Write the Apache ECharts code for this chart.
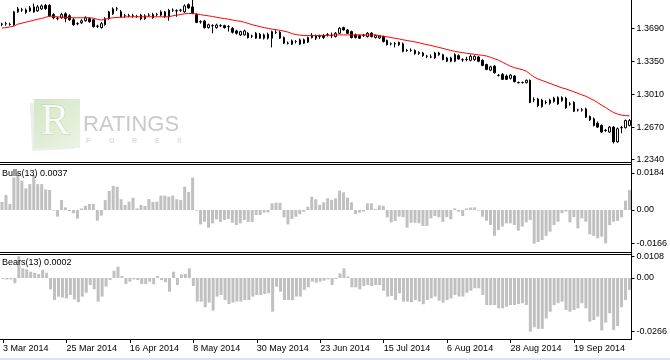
<!DOCTYPE html>
<html>
<head>
<meta charset="utf-8">
<script src="https://cdn.jsdelivr.net/npm/echarts@6/dist/echarts.min.js"></script>
<style>
html,body{margin:0;padding:0;background:#fff;}
#chart{width:670px;height:360px;}
</style>
</head>
<body>
<div id="chart"></div>
<script>
// [open, close, low, high] per trading day, starting 3 Mar 2014
const candles = [
[1.3735,1.3733,1.3713,1.3749],[1.3738,1.3740,1.3718,1.3759],[1.3732,1.3730,1.3718,1.3749],[1.3725,1.3861,1.3718,1.3871],[1.3861,1.3892,1.3851,1.3912],
[1.3880,1.3882,1.3861,1.3902],[1.3881,1.3854,1.3841,1.3897],[1.3871,1.3902,1.3861,1.3922],[1.3912,1.3861,1.3851,1.3946],[1.3871,1.3912,1.3861,1.3932],
[1.3892,1.3922,1.3881,1.3938],[1.3927,1.3895,1.3881,1.3943],[1.3929,1.3820,1.3810,1.3938],[1.3833,1.3800,1.3785,1.3846],[1.3794,1.3796,1.3774,1.3810],
[1.3800,1.3833,1.3790,1.3851],[1.3841,1.3793,1.3754,1.3856],[1.3820,1.3779,1.3769,1.3836],[1.3779,1.3728,1.3718,1.3800],[1.3738,1.3740,1.3723,1.3754],
[1.3749,1.3769,1.3734,1.3785],[1.3769,1.3800,1.3759,1.3815],[1.3790,1.3759,1.3749,1.3805],[1.3779,1.3708,1.3698,1.3790],[1.3712,1.3714,1.3693,1.3728],
[1.3698,1.3739,1.3688,1.3754],[1.3728,1.3790,1.3718,1.3805],[1.3790,1.3861,1.3779,1.3871],[1.3841,1.3892,1.3830,1.3907],[1.3891,1.3893,1.3871,1.3912],
[1.3861,1.3810,1.3800,1.3881],[1.3821,1.3819,1.3800,1.3841],[1.3819,1.3821,1.3805,1.3841],[1.3821,1.3819,1.3800,1.3841],[1.3812,1.3814,1.3800,1.3830],
[1.3827,1.3787,1.3774,1.3841],[1.3790,1.3820,1.3779,1.3836],[1.3826,1.3828,1.3810,1.3846],[1.3833,1.3800,1.3790,1.3851],[1.3832,1.3834,1.3815,1.3851],
[1.3827,1.3861,1.3815,1.3876],[1.3861,1.3810,1.3800,1.3871],[1.3810,1.3878,1.3769,1.3892],[1.3877,1.3879,1.3861,1.3897],[1.3872,1.3870,1.3810,1.3887],
[1.3877,1.3879,1.3861,1.3892],[1.3861,1.3922,1.3851,1.3938],[1.3935,1.3902,1.3892,1.3948],[1.3912,1.3844,1.3836,1.3994],[1.3833,1.3752,1.3744,1.3846],
[1.3758,1.3760,1.3739,1.3774],[1.3766,1.3698,1.3688,1.3779],[1.3698,1.3728,1.3688,1.3739],[1.3717,1.3719,1.3640,1.3734],[1.3698,1.3725,1.3688,1.3739],
[1.3719,1.3717,1.3703,1.3734],[1.3718,1.3698,1.3688,1.3728],[1.3707,1.3709,1.3657,1.3723],[1.3691,1.3650,1.3637,1.3703],[1.3664,1.3640,1.3626,1.3677],
[1.3623,1.3657,1.3611,1.3667],[1.3623,1.3664,1.3616,1.3677],[1.3640,1.3596,1.3586,1.3652],[1.3610,1.3612,1.3591,1.3626],[1.3589,1.3640,1.3581,1.3652],
[1.3630,1.3589,1.3581,1.3642],[1.3589,1.3623,1.3575,1.3637],[1.3589,1.3630,1.3575,1.3647],[1.3589,1.3657,1.3494,1.3667],[1.3648,1.3650,1.3632,1.3672],
[1.3650,1.3589,1.3581,1.3662],[1.3596,1.3538,1.3529,1.3606],[1.3539,1.3537,1.3524,1.3555],[1.3527,1.3562,1.3519,1.3575],[1.3554,1.3556,1.3535,1.3570],
[1.3527,1.3572,1.3519,1.3586],[1.3572,1.3538,1.3529,1.3586],[1.3548,1.3596,1.3540,1.3606],[1.3616,1.3596,1.3586,1.3642],[1.3616,1.3589,1.3570,1.3626],
[1.3605,1.3607,1.3581,1.3626],[1.3616,1.3596,1.3581,1.3632],[1.3622,1.3624,1.3606,1.3642],[1.3617,1.3615,1.3591,1.3647],[1.3606,1.3640,1.3596,1.3652],
[1.3640,1.3691,1.3632,1.3703],[1.3698,1.3674,1.3667,1.3708],[1.3674,1.3640,1.3632,1.3683],[1.3657,1.3596,1.3586,1.3667],[1.3623,1.3596,1.3586,1.3637],
[1.3616,1.3589,1.3581,1.3626],[1.3615,1.3617,1.3601,1.3632],[1.3606,1.3640,1.3596,1.3652],[1.3640,1.3606,1.3596,1.3652],[1.3596,1.3616,1.3586,1.3626],
[1.3591,1.3611,1.3581,1.3621],[1.3606,1.3555,1.3545,1.3616],[1.3565,1.3521,1.3514,1.3575],[1.3530,1.3532,1.3514,1.3545],[1.3532,1.3530,1.3494,1.3550],
[1.3521,1.3545,1.3509,1.3555],[1.3531,1.3453,1.3443,1.3545],[1.3464,1.3462,1.3448,1.3479],[1.3462,1.3464,1.3448,1.3484],[1.3463,1.3430,1.3417,1.3473],
[1.3430,1.3443,1.3417,1.3453],[1.3436,1.3409,1.3397,1.3448],[1.3401,1.3403,1.3382,1.3417],[1.3396,1.3394,1.3382,1.3422],[1.3385,1.3436,1.3377,1.3448],
[1.3436,1.3419,1.3407,1.3448],[1.3419,1.3368,1.3361,1.3428],[1.3385,1.3351,1.3341,1.3397],[1.3351,1.3385,1.3341,1.3397],[1.3351,1.3419,1.3341,1.3433],
[1.3409,1.3374,1.3366,1.3422],[1.3365,1.3367,1.3346,1.3382],[1.3369,1.3367,1.3351,1.3397],[1.3361,1.3402,1.3351,1.3422],[1.3368,1.3402,1.3356,1.3412],
[1.3395,1.3351,1.3341,1.3407],[1.3361,1.3307,1.3300,1.3371],[1.3317,1.3266,1.3259,1.3326],[1.3259,1.3293,1.3249,1.3305],[1.3300,1.3232,1.3224,1.3310],
[1.3204,1.3206,1.3193,1.3218],[1.3215,1.3164,1.3157,1.3229],[1.3198,1.3164,1.3157,1.3213],[1.3175,1.3208,1.3162,1.3218],[1.3198,1.3140,1.3132,1.3208],
[1.3131,1.3129,1.3122,1.3142],[1.3129,1.3131,1.3122,1.3142],[1.3130,1.3154,1.3122,1.3162],[1.3154,1.2926,1.2918,1.3162],[1.2952,1.2954,1.2928,1.2979],
[1.2960,1.2892,1.2877,1.2974],[1.2882,1.2950,1.2872,1.2963],[1.2927,1.2925,1.2907,1.2948],[1.2916,1.2950,1.2902,1.2963],[1.2936,1.2970,1.2923,1.2984],
[1.2909,1.2977,1.2902,1.2989],[1.2943,1.2977,1.2933,1.2989],[1.2970,1.2869,1.2861,1.2984],[1.2910,1.2908,1.2892,1.2928],[1.2926,1.2834,1.2826,1.2938],
[1.2847,1.2849,1.2831,1.2861],[1.2849,1.2847,1.2831,1.2867],[1.2858,1.2773,1.2765,1.2872],[1.2780,1.2746,1.2734,1.2790],[1.2756,1.2688,1.2678,1.2770],
[1.2711,1.2671,1.2663,1.2729],[1.2688,1.2620,1.2612,1.2698],[1.2638,1.2636,1.2622,1.2652],[1.2620,1.2671,1.2612,1.2683],[1.2671,1.2518,1.2501,1.2683],
[1.2518,1.2654,1.2510,1.2668],[1.2664,1.2666,1.2607,1.2683],[1.2665,1.2739,1.2657,1.2749],[1.2688,1.2739,1.2678,1.2754]
];

// red moving average
const maLine = [
1.3693,1.3698,1.3705,1.3713,1.3734,1.3744,1.3754,1.3764,1.3774,1.3785,
1.3793,1.3805,1.3817,1.3813,1.3810,1.3807,1.3805,1.3800,1.3800,1.3800,
1.3800,1.3800,1.3800,1.3795,1.3785,1.3776,1.3785,1.3795,1.3800,1.3803,
1.3805,1.3808,1.3810,1.3810,1.3810,1.3810,1.3810,1.3810,1.3810,1.3810,
1.3810,1.3810,1.3810,1.3820,1.3827,1.3833,1.3841,1.3844,1.3844,1.3839,
1.3832,1.3825,1.3820,1.3813,1.3805,1.3798,1.3792,1.3785,1.3777,1.3769,
1.3764,1.3754,1.3742,1.3728,1.3718,1.3708,1.3698,1.3690,1.3683,1.3677,
1.3670,1.3662,1.3652,1.3637,1.3626,1.3621,1.3616,1.3616,1.3616,1.3616,
1.3616,1.3616,1.3618,1.3621,1.3623,1.3623,1.3623,1.3623,1.3623,1.3623,
1.3623,1.3623,1.3623,1.3623,1.3623,1.3616,1.3609,1.3603,1.3596,1.3588,
1.3581,1.3572,1.3565,1.3558,1.3550,1.3542,1.3531,1.3522,1.3514,1.3504,
1.3494,1.3484,1.3473,1.3463,1.3453,1.3446,1.3440,1.3433,1.3428,1.3422,
1.3417,1.3412,1.3405,1.3392,1.3377,1.3361,1.3341,1.3320,1.3300,1.3285,
1.3274,1.3264,1.3249,1.3218,1.3188,1.3167,1.3152,1.3137,1.3122,1.3106,
1.3091,1.3076,1.3065,1.3050,1.3035,1.3020,1.3004,1.2989,1.2968,1.2948,
1.2923,1.2897,1.2872,1.2846,1.2821,1.2805,1.2795,1.2790,1.2787
];

const bulls = [
0.0040,0.0074,0.0030,0.0161,0.0184,0.0145,0.0107,0.0128,0.0173,0.0128,
0.0128,0.0102,0.0099,-0.0003,-0.0033,0.0049,0.0013,-0.0005,-0.0016,-0.0043,
0.0008,0.0021,0.0030,0.0030,-0.0053,-0.0028,0.0049,0.0094,0.0119,0.0115,
0.0053,0.0025,0.0041,0.0061,0.0008,0.0025,0.0020,0.0054,0.0040,0.0041,
0.0071,0.0071,0.0066,0.0071,0.0053,0.0049,0.0115,0.0089,0.0160,-0.0003,
-0.0071,-0.0058,-0.0087,-0.0066,-0.0046,-0.0059,-0.0049,-0.0044,-0.0063,-0.0074,
-0.0066,-0.0049,-0.0059,-0.0059,-0.0025,-0.0025,-0.0013,-0.0012,0.0033,0.0036,
0.0036,-0.0036,-0.0071,-0.0044,-0.0033,-0.0021,-0.0008,0.0016,0.0066,0.0053,
0.0025,0.0038,0.0058,0.0049,0.0058,0.0096,0.0087,0.0061,0.0038,-0.0020,
-0.0013,-0.0008,0.0033,0.0033,0.0005,0.0023,0.0021,-0.0036,-0.0061,-0.0054,
-0.0033,-0.0036,-0.0087,-0.0063,-0.0063,-0.0066,-0.0079,-0.0079,-0.0041,-0.0030,
-0.0036,-0.0058,-0.0036,-0.0046,0.0008,-0.0008,-0.0030,0.0008,0.0012,0.0013,
-0.0003,-0.0033,-0.0053,-0.0074,-0.0128,-0.0099,-0.0082,-0.0066,-0.0066,-0.0074,
-0.0102,-0.0082,-0.0061,-0.0049,-0.0166,-0.0158,-0.0148,-0.0128,-0.0107,-0.0074,
-0.0058,-0.0016,-0.0008,-0.0061,-0.0036,-0.0091,-0.0041,-0.0058,-0.0120,-0.0128,
-0.0140,-0.0132,-0.0165,-0.0074,-0.0058,-0.0054,-0.0036,0.0046,0.0099
];

const bears = [
-0.0005,-0.0007,-0.0007,-0.0026,0.0108,0.0048,0.0043,0.0031,0.0026,0.0020,
0.0040,0.0026,-0.0056,-0.0109,-0.0092,-0.0097,-0.0101,-0.0084,-0.0106,-0.0120,
-0.0092,-0.0073,-0.0035,-0.0056,-0.0117,-0.0092,-0.0043,-0.0010,0.0036,0.0056,
0.0010,-0.0030,-0.0018,-0.0007,-0.0010,-0.0030,-0.0030,-0.0018,-0.0031,0.0010,
-0.0010,-0.0021,-0.0068,0.0031,-0.0035,0.0018,0.0020,0.0048,-0.0040,-0.0117,
-0.0117,-0.0145,-0.0122,-0.0162,-0.0092,-0.0084,-0.0109,-0.0129,-0.0122,-0.0117,
-0.0117,-0.0109,-0.0109,-0.0092,-0.0084,-0.0084,-0.0079,-0.0076,-0.0167,-0.0043,
-0.0068,-0.0109,-0.0109,-0.0109,-0.0092,-0.0092,-0.0059,-0.0046,-0.0018,-0.0023,
-0.0018,-0.0013,-0.0007,-0.0035,-0.0005,0.0023,0.0048,0.0007,-0.0046,-0.0046,
-0.0056,-0.0040,-0.0035,-0.0040,-0.0035,-0.0035,-0.0063,-0.0092,-0.0089,-0.0109,
-0.0076,-0.0117,-0.0117,-0.0120,-0.0109,-0.0117,-0.0130,-0.0109,-0.0101,-0.0092,
-0.0112,-0.0122,-0.0109,-0.0101,-0.0084,-0.0092,-0.0092,-0.0073,-0.0063,-0.0051,
-0.0051,-0.0084,-0.0134,-0.0134,-0.0134,-0.0150,-0.0150,-0.0142,-0.0134,-0.0134,
-0.0129,-0.0125,-0.0134,-0.0266,-0.0244,-0.0252,-0.0252,-0.0200,-0.0167,-0.0134,
-0.0125,-0.0117,-0.0158,-0.0167,-0.0158,-0.0150,-0.0125,-0.0150,-0.0216,-0.0208,
-0.0191,-0.0260,-0.0221,-0.0175,-0.0257,-0.0238,-0.0145,-0.0109,-0.0059
];

const priceTicks = [1.3690, 1.3350, 1.3010, 1.2670, 1.2340];
const bullsTicks = [0.0184, 0, -0.0166];
const bearsTicks = [0.0108, 0, -0.0266];
const bullsLabel = 'Bulls(13) 0.0037';
const bearsLabel = 'Bears(13) 0.0002';
const monthNames = ['Jan','Feb','Mar','Apr','May','Jun','Jul','Aug','Sep','Oct','Nov','Dec'];

// trading-day categories (weekdays from 3 Mar 2014)
const dates = [];
(function () {
  let t = Date.UTC(2014, 2, 3);
  while (dates.length < candles.length) {
    const d = new Date(t);
    const wd = d.getUTCDay();
    if (wd !== 0 && wd !== 6) dates.push(d.getUTCDate() + ' ' + monthNames[d.getUTCMonth()] + ' ' + d.getUTCFullYear());
    t += 86400000;
  }
})();

const FONT = '"Liberation Sans", Arial, sans-serif';
const chart = echarts.init(document.getElementById('chart'), null, {renderer: 'canvas'});

const GL = -4.5, GW = 636;
const gridCommon = {left: GL, width: GW, show: false};
const hiddenX = (gi) => ({type: 'category', gridIndex: gi, data: dates, boundaryGap: true,
  axisLine: {show: false, onZero: false}, axisTick: {show: false}, axisLabel: {show: false}, splitLine: {show: false}});
const yAx = (gi, min, max, ticks, fmt) => ({
  type: 'value', gridIndex: gi, position: 'right', min: min, max: max,
  splitLine: {show: false},
  axisLine: {show: true, lineStyle: {color: '#000', width: 1}},
  axisTick: {show: true, length: 3, inside: false, customValues: ticks, lineStyle: {color: '#000'}},
  axisLabel: {show: true, customValues: ticks, formatter: fmt, margin: 5, color: '#000', fontSize: 9, fontFamily: FONT}
});
const fmt4 = (v) => (Math.abs(v) < 1e-9 ? '0.00' : v.toFixed(4));
const hline = (y) => ({type: 'line', z: 50, shape: {x1: 0, y1: y, x2: 632, y2: y}, style: {stroke: '#000', lineWidth: 1}});

const option = {
  animation: false,
  backgroundColor: '#ffffff',
  grid: [
    Object.assign({top: -2, height: 164}, gridCommon),
    Object.assign({top: 164, height: 88}, gridCommon),
    Object.assign({top: 254, height: 85}, gridCommon)
  ],
  xAxis: [
    hiddenX(0),
    hiddenX(1),
    {
      type: 'category', gridIndex: 2, data: dates, boundaryGap: true,
      axisLine: {show: true, onZero: false, lineStyle: {color: '#000'}},
      axisTick: {show: true, alignWithLabel: true, interval: 15, length: 4, lineStyle: {color: '#000'}},
      axisLabel: {show: true, interval: 15, align: 'left', margin: 5, color: '#000', fontSize: 9, fontFamily: FONT},
      splitLine: {show: false}
    }
  ],
  yAxis: [
    yAx(0, 1.23106, 1.39834, priceTicks, (v) => v.toFixed(4)),
    yAx(1, -0.020751, 0.022727, bullsTicks, fmt4),
    yAx(2, -0.030213, 0.011887, bearsTicks, fmt4)
  ],
  graphic: [
    // watermark logo
    {type: 'rect', z: 0, shape: {x: 31, y: 102, width: 43, height: 48}, rotation: 0.05, origin: [52, 126],
      style: {fill: '#eceeeb'}},
    {type: 'rect', z: 0, shape: {x: 34, y: 99, width: 46, height: 49},
      style: {fill: new echarts.graphic.LinearGradient(0, 0, 1, 1, [{offset: 0, color: '#d3e6c4'}, {offset: 1, color: '#ecf3e6'}])}},
    {type: 'text', z: 0, left: 40, top: 100, style: {text: 'R', font: '44px "Liberation Serif", serif', fill: '#f8fbf5', stroke: '#b9d2a8', lineWidth: 1}},
    {type: 'text', z: 0, left: 83, top: 114, style: {text: 'RATINGS', font: '22px ' + FONT, fill: '#cacaca'}},
    {type: 'text', z: 0, left: 86, top: 138, style: {text: 'F', font: 'bold 7px ' + FONT, fill: '#d8ded2'}},
    {type: 'text', z: 0, left: 109, top: 138, style: {text: 'O', font: 'bold 7px ' + FONT, fill: '#d8ded2'}},
    {type: 'text', z: 0, left: 132, top: 138, style: {text: 'R', font: 'bold 7px ' + FONT, fill: '#d8ded2'}},
    {type: 'text', z: 0, left: 155, top: 138, style: {text: 'E', font: 'bold 7px ' + FONT, fill: '#d8ded2'}},
    {type: 'text', z: 0, left: 177, top: 138, style: {text: 'X', font: 'bold 7px ' + FONT, fill: '#d8ded2'}},
    // panel separators
    hline(162.5), hline(164.5), hline(252.5), hline(254.5), hline(339.5),
    {type: 'line', z: 50, shape: {x1: 631.5, y1: 0, x2: 631.5, y2: 340}, style: {stroke: '#000', lineWidth: 1}},
    // indicator captions
    {type: 'text', z: 100, left: 2, top: 169, style: {text: bullsLabel, font: '9px ' + FONT, fill: '#000'}},
    {type: 'text', z: 100, left: 2, top: 258, style: {text: bearsLabel, font: '9px ' + FONT, fill: '#000'}},
    // bottom status strip
    {type: 'rect', z: 0, shape: {x: 0, y: 358, width: 670, height: 2}, style: {fill: '#dde6f0'}}
  ],
  series: [
    {
      type: 'candlestick', xAxisIndex: 0, yAxisIndex: 0, data: candles, barWidth: 2, z: 2,
      itemStyle: {color: '#ffffff', color0: '#000000', borderColor: '#000000', borderColor0: '#000000', borderWidth: 1}
    },
    {
      type: 'line', xAxisIndex: 0, yAxisIndex: 0, data: maLine, showSymbol: false, symbol: 'none', z: 3,
      lineStyle: {color: '#ff0000', width: 1}
    },
    {
      type: 'bar', xAxisIndex: 1, yAxisIndex: 1, data: bulls, barWidth: 3, z: 2,
      itemStyle: {color: '#c0c0c0'}
    },
    {
      type: 'bar', xAxisIndex: 2, yAxisIndex: 2, data: bears, barWidth: 3, z: 2,
      itemStyle: {color: '#c0c0c0'}
    }
  ]
};
chart.setOption(option);
</script>
</body>
</html>
